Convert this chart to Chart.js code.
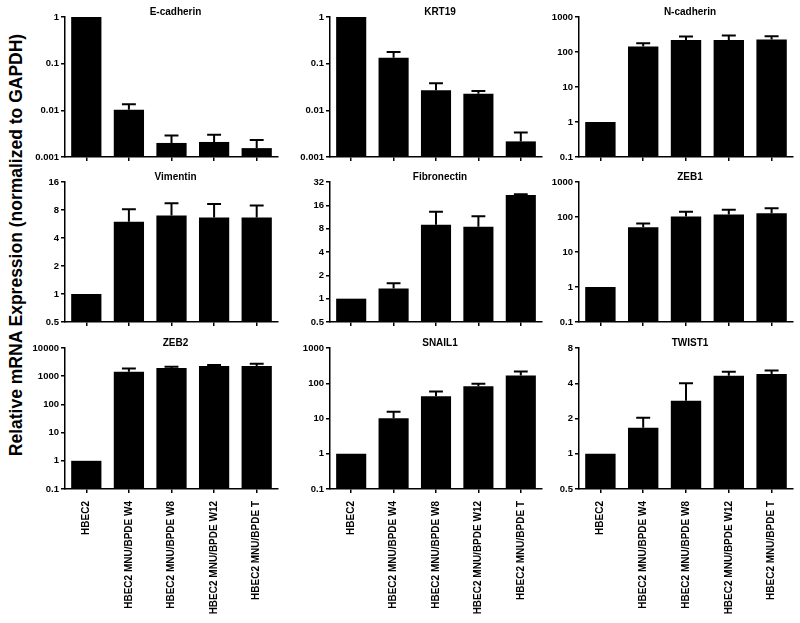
<!DOCTYPE html>
<html>
<head>
<meta charset="utf-8">
<script src="https://cdn.jsdelivr.net/npm/chart.js@4.4.1/dist/chart.umd.min.js"></script>
<style>
  body { margin: 0; background: #fff; width: 800px; height: 623px; position: relative; overflow: hidden; }
  canvas { position: absolute; }
  #ytitle {
    position: absolute; left: 16px; top: 245px;
    transform: translate(-50%, -50%) rotate(-90deg);
    font: bold 17.5px "Liberation Sans", Arial, sans-serif;
    white-space: nowrap; color: #000;
  }
</style>
</head>
<body>
<div id="ytitle">Relative mRNA Expression (normalized to GAPDH)</div>
<script>
const categories = ['HBEC2', 'HBEC2 MNU/BPDE W4', 'HBEC2 MNU/BPDE W8', 'HBEC2 MNU/BPDE W12', 'HBEC2 MNU/BPDE T'];

// means and upper SEM per gene
const ecadMean = [1, 0.0103, 0.002, 0.0021, 0.00155];
const ecadErr  = [0, 0.0032, 0.0009, 0.0009, 0.00075];
const krt19Mean = [1, 0.134, 0.027, 0.0228, 0.00216];
const krt19Err  = [0, 0.043, 0.011, 0.0032, 0.0012];
const ncadMean = [1, 143, 222, 222, 226];
const ncadErr  = [0, 35, 54, 73, 57];
const vimMean = [1, 5.97, 6.98, 6.65, 6.65];
const vimErr  = [0, 2.2, 2.5, 2.65, 2.3];
const fibMean = [1, 1.35, 8.97, 8.45, 21.8];
const fibErr  = [0, 0.23, 4.3, 3.15, 0.5];
const zeb1Mean = [1, 50.7, 104, 117, 127];
const zeb1Err  = [0, 14, 38, 45, 50];
const zeb2Mean = [1, 1442, 1945, 2290, 2290];
const zeb2Err  = [0, 450, 225, 200, 480];
const snailMean = [1, 10.1, 43, 82.7, 165];
const snailErr  = [0, 5.5, 15.5, 14, 50];
const twistMean = [1, 1.67, 2.83, 4.64, 4.79];
const twistErr  = [0, 0.36, 1.17, 0.38, 0.36];

// y tick labels
const ticksSmall = [0.001, 0.01, 0.1, 1];
const ticksDec3 = [0.1, 1, 10, 100, 1000];
const ticksDec4 = [0.1, 1, 10, 100, 1000, 10000];
const ticksVim = [0.5, 1, 2, 4, 8, 16];
const ticksFib = [0.5, 1, 2, 4, 8, 16, 32];
const ticksTwist = [0.5, 1, 2, 4, 8];

const panels = [
  { title: 'E-cadherin', mean: ecadMean, err: ecadErr, ticks: ticksSmall, row: 0, col: 0 },
  { title: 'KRT19', mean: krt19Mean, err: krt19Err, ticks: ticksSmall, row: 0, col: 1 },
  { title: 'N-cadherin', mean: ncadMean, err: ncadErr, ticks: ticksDec3, row: 0, col: 2 },
  { title: 'Vimentin', mean: vimMean, err: vimErr, ticks: ticksVim, row: 1, col: 0 },
  { title: 'Fibronectin', mean: fibMean, err: fibErr, ticks: ticksFib, row: 1, col: 1 },
  { title: 'ZEB1', mean: zeb1Mean, err: zeb1Err, ticks: ticksDec3, row: 1, col: 2 },
  { title: 'ZEB2', mean: zeb2Mean, err: zeb2Err, ticks: ticksDec4, row: 2, col: 0 },
  { title: 'SNAIL1', mean: snailMean, err: snailErr, ticks: ticksDec3, row: 2, col: 1 },
  { title: 'TWIST1', mean: twistMean, err: twistErr, ticks: ticksTwist, row: 2, col: 2 }
];

const colLeft = [65, 330, 579];
const colRight = [278, 542, 793];
const rowTop = [17, 182, 348];
const rowBottom = [157, 322, 489];
const yAxisW = 50, padTop = 15, padRight = 6;

const FONT = '"Liberation Sans", Arial, sans-serif';

// error bars, drawn with the y scale
const errorBars = {
  id: 'errorBars',
  afterDatasetsDraw(chart) {
    const ctx = chart.ctx;
    const y = chart.scales.y;
    const errs = chart.options.plugins.errorBars.errs;
    const meta = chart.getDatasetMeta(0);
    ctx.save();
    ctx.strokeStyle = '#000';
    ctx.lineWidth = 2;
    meta.data.forEach((bar, i) => {
      if (!errs[i]) return;
      const v = chart.data.datasets[0].data[i];
      const top = y.getPixelForValue(v + errs[i]);
      const half = bar.width * 0.23;
      ctx.beginPath();
      ctx.moveTo(bar.x, bar.y);
      ctx.lineTo(bar.x, top);
      ctx.moveTo(bar.x - half, top);
      ctx.lineTo(bar.x + half, top);
      ctx.stroke();
    });
    ctx.restore();
  }
};

const panelTitle = {
  id: 'panelTitle',
  afterDraw(chart) {
    const a = chart.chartArea;
    const ctx = chart.ctx;
    ctx.save();
    ctx.font = 'bold 10px ' + FONT;
    ctx.fillStyle = '#000';
    ctx.textAlign = 'center';
    ctx.textBaseline = 'middle';
    ctx.fillText(chart.options.plugins.panelTitle.text, (a.left + a.right) / 2 + 4, a.top - 5);
    ctx.restore();
  }
};

panels.forEach(p => {
  const bottomRow = p.row === 2;
  const xAxisH = bottomRow ? 130 : 10;
  const chartW = colRight[p.col] - colLeft[p.col];
  const chartH = rowBottom[p.row] - rowTop[p.row];
  const cv = document.createElement('canvas');
  cv.width = yAxisW + chartW + padRight;
  cv.height = padTop + chartH + xAxisH;
  cv.style.left = (colLeft[p.col] - yAxisW) + 'px';
  cv.style.top = (rowTop[p.row] - padTop) + 'px';
  document.body.appendChild(cv);

  new Chart(cv.getContext('2d'), {
    type: 'bar',
    data: {
      labels: categories,
      datasets: [{
        data: p.mean,
        backgroundColor: '#000',
        borderWidth: 0,
        categoryPercentage: 1,
        barPercentage: 0.71
      }]
    },
    options: {
      responsive: false,
      animation: false,
      layout: { padding: { top: padTop, right: padRight, left: 0, bottom: 0 } },
      plugins: {
        legend: { display: false },
        tooltip: { enabled: false },
        errorBars: { errs: p.err },
        panelTitle: { text: p.title }
      },
      scales: {
        x: {
          grid: { display: true, offset: false, drawOnChartArea: false, drawTicks: true, tickLength: 4, color: '#000', lineWidth: 1.5 },
          border: { display: true, color: '#000', width: 1.5 },
          ticks: {
            display: bottomRow,
            autoSkip: false,
            minRotation: 90,
            maxRotation: 90,
            padding: 8,
            color: '#000',
            font: { family: FONT, size: 10, weight: 'bold' }
          },
          afterFit: axis => { axis.height = xAxisH; }
        },
        y: {
          type: 'logarithmic',
          min: p.ticks[0],
          max: p.ticks[p.ticks.length - 1],
          grid: { display: true, drawOnChartArea: false, drawTicks: true, tickLength: 4, color: '#000', lineWidth: 1.5 },
          border: { display: true, color: '#000', width: 1.5 },
          afterBuildTicks: axis => { axis.ticks = p.ticks.map(v => ({ value: v })); },
          ticks: {
            autoSkip: false,
            padding: 2,
            color: '#000',
            font: { family: FONT, size: 9.5, weight: 'bold' },
            callback: v => String(v)
          },
          afterFit: axis => { axis.width = yAxisW; }
        }
      }
    },
    plugins: [errorBars, panelTitle]
  });
});
</script>
</body>
</html>
